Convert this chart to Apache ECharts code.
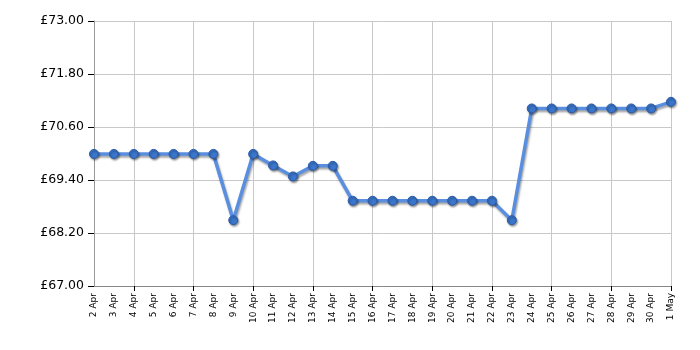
<!DOCTYPE html>
<html>
<head>
<meta charset="utf-8">
<script src="https://cdn.jsdelivr.net/npm/echarts@6/dist/echarts.min.js"></script>
<style>html,body{margin:0;padding:0;background:#fff}#c{width:700px;height:350px}</style>
</head>
<body>
<div id="c"></div>
<script>
var categories = ['2 Apr','3 Apr','4 Apr','5 Apr','6 Apr','7 Apr','8 Apr','9 Apr','10 Apr','11 Apr','12 Apr','13 Apr','14 Apr','15 Apr','16 Apr','17 Apr','18 Apr','19 Apr','20 Apr','21 Apr','22 Apr','23 Apr','24 Apr','25 Apr','26 Apr','27 Apr','28 Apr','29 Apr','30 Apr','1 May'];
var prices = [69.99,69.99,69.99,69.99,69.99,69.99,69.99,68.49,69.99,69.73,69.48,69.72,69.72,68.93,68.93,68.93,68.93,68.93,68.93,68.93,68.93,68.49,71.02,71.02,71.02,71.02,71.02,71.02,71.02,71.17];
var yMin = 67, yMax = 73, yStep = 1.2;

var chart = echarts.init(document.getElementById('c'));
function every3(i){ return i % 3 === 2; }
chart.setOption({
  animation: false,
  grid: {left: 94, right: 29, top: 21, bottom: 64},
  xAxis: {
    type: 'category', data: categories, boundaryGap: false,
    axisLine: {show: true, lineStyle: {color: '#888', width: 1}},
    axisTick: {show: true, interval: every3, length: 5, lineStyle: {color: '#000', width: 1}},
    splitLine: {show: true, interval: every3, lineStyle: {color: '#c8c8c8', width: 1}},
    axisLabel: {interval: 0, rotate: 90, fontSize: 9, fontFamily: 'DejaVu Sans', color: '#000', margin: 7, hideOverlap: false}
  },
  yAxis: {
    type: 'value', min: yMin, max: yMax, interval: yStep,
    axisLine: {show: true, lineStyle: {color: '#999', width: 1}},
    axisTick: {show: true, length: 6, lineStyle: {color: '#000', width: 1}},
    splitLine: {show: true, lineStyle: {color: '#c8c8c8', width: 1}},
    axisLabel: {fontSize: 12.5, fontFamily: 'DejaVu Sans', color: '#000', margin: 10,
      formatter: function(v){ return '£' + v.toFixed(2); }}
  },
  series: [{
    type: 'line', data: prices,
    symbol: 'circle', symbolSize: 9,
    lineStyle: {color: '#5a8fe0', width: 3.5, shadowColor: 'rgba(0,0,0,0.35)', shadowBlur: 2, shadowOffsetX: 1, shadowOffsetY: 2},
    itemStyle: {color: '#3a76cc', borderColor: '#2a5aa8', borderWidth: 1, shadowColor: 'rgba(0,0,0,0.4)', shadowBlur: 2, shadowOffsetX: 1, shadowOffsetY: 1.5}
  }]
});
</script>
</body>
</html>
